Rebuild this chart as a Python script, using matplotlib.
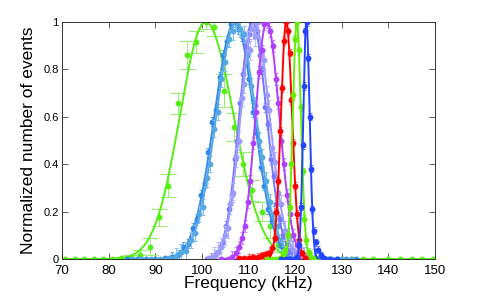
import numpy as np
import matplotlib
matplotlib.use("Agg")
import matplotlib.pyplot as plt

plt.rcParams['font.family'] = ['Liberation Sans', 'DejaVu Sans']

# ---- data ----
g1_x = [70.6, 72.7, 74.8, 76.9, 78.9, 80.8, 82.6, 84.7, 86.7, 88.9, 90.8, 92.7, 94.8, 96.8, 98.7,
        100.8, 102.6, 104.8, 106.8, 108.8, 110.7, 112.9, 114.6, 116.4, 118.5, 120.6, 122.7, 124.9,
        127.2, 129.7, 132.2, 134.6, 136.8, 140.0, 142.5, 145.0, 147.2, 149.6]
g1_y = [0, 0, 0, 0, 0, 0, 0.003, 0.008, 0.017, 0.052, 0.176, 0.31, 0.657, 0.86, 0.915,
        1.0, 0.98, 0.71, 0.556, 0.40, 0.29, 0.20, 0.14, 0.06, 0.02, 0.01, 0.004, 0,
        0, 0, 0, 0, 0, 0, 0, 0, 0, 0]
g1_err = [0, 0, 0, 0, 0, 0, 0.004, 0.01, 0.02, 0.035, 0.035, 0.05, 0.045, 0.06, 0.045,
          0.03, 0.04, 0.07, 0.06, 0.05, 0.045, 0.04, 0.05, 0.03, 0.01, 0.008, 0.004, 0,
          0, 0, 0, 0, 0, 0, 0, 0, 0, 0]

b1_x = [84, 86, 88, 90, 92, 93.5, 95, 96, 97, 98, 99, 99.8, 100.6, 101.4, 102.2, 103, 103.8, 104.6,
        105.4, 106.2, 107, 107.8, 108.6, 109.4, 110.2, 111, 111.8, 112.6, 113.4, 114.2, 115, 116,
        117, 118, 119, 120, 121.5, 123, 125, 127, 129, 131, 133]
b1_y = [0, 0, 0, 0.001, 0.004, 0.01, 0.02, 0.05, 0.065, 0.13, 0.17, 0.27, 0.32, 0.45, 0.58, 0.63,
        0.77, 0.86, 0.92, 0.99, 1.0, 0.97, 0.94, 0.83, 0.76, 0.62, 0.53, 0.39, 0.31, 0.21, 0.16,
        0.09, 0.055, 0.03, 0.012, 0.006, 0.002, 0, 0, 0, 0, 0, 0]

b2_x = [85, 87, 89, 91, 93, 94.5, 95.6, 96.6, 97.6, 98.6, 99.4, 100.2, 101, 101.8, 102.6, 103.4,
        104.2, 105, 105.8, 106.6, 107.4, 108.2, 109, 109.8, 110.6, 111.4, 112.2, 113, 113.8, 114.6,
        115.4, 116.4, 117.4, 118.4, 119.4, 120.4, 122, 124, 126, 128, 130, 132]
b2_y = [0, 0, 0, 0.001, 0.004, 0.012, 0.03, 0.035, 0.08, 0.11, 0.19, 0.22, 0.34, 0.40, 0.55, 0.62,
        0.76, 0.83, 0.93, 0.96, 1.0, 0.97, 0.95, 0.86, 0.73, 0.65, 0.50, 0.43, 0.33, 0.24,
        0.19, 0.14, 0.09, 0.06, 0.04, 0.03, 0.015, 0.006, 0.002, 0, 0, 0]

p1_x = [101, 102, 103, 103.8, 104.5, 105.2, 105.8, 106.4, 107, 107.6, 108.2, 108.8, 109.4, 110,
        110.6, 111.2, 111.8, 112.4, 113, 113.6, 114.2, 114.8, 115.4, 116, 116.7, 117.4, 118.2,
        119, 120, 121, 122.5, 124, 126]
p1_y = [0.002, 0.006, 0.02, 0.05, 0.07, 0.14, 0.21, 0.27, 0.42, 0.50, 0.66, 0.78, 0.90, 0.95,
        1.0, 0.97, 0.96, 0.86, 0.80, 0.64, 0.57, 0.42, 0.35, 0.23, 0.17, 0.10, 0.06,
        0.035, 0.015, 0.006, 0.002, 0, 0]

p2_x = [101.5, 102.5, 103.4, 104.2, 104.9, 105.5, 106.1, 106.7, 107.3, 107.9, 108.5, 109.1, 109.7,
        110.3, 110.9, 111.5, 112.1, 112.7, 113.3, 113.9, 114.5, 115.1, 115.7, 116.3, 117, 117.8,
        118.6, 119.5, 120.5, 121.7, 123, 125]
p2_y = [0.004, 0.012, 0.03, 0.05, 0.10, 0.13, 0.23, 0.28, 0.43, 0.50, 0.68, 0.74, 0.92,
        0.88, 0.97, 0.94, 1.0, 0.86, 0.84, 0.69, 0.63, 0.47, 0.41, 0.28, 0.23, 0.12,
        0.09, 0.04, 0.025, 0.01, 0.003, 0]

u_x = [104, 105.5, 106.5, 107.3, 108, 108.6, 109.2, 109.8, 110.4, 111, 111.6, 112.2, 112.8, 113.4,
       114, 114.6, 115.2, 115.8, 116.4, 117, 117.6, 118.2, 118.9, 119.6, 120.4, 121.3, 122.5, 124]
u_y = [0, 0.002, 0.01, 0.025, 0.05, 0.09, 0.14, 0.24, 0.33, 0.49, 0.62, 0.79, 0.88, 0.99,
       1.0, 0.96, 0.90, 0.76, 0.66, 0.50, 0.40, 0.27, 0.19, 0.10, 0.06, 0.02, 0.006, 0]

r_x = [108, 109, 110, 111, 112, 113, 113.8, 114.5, 115.1, 115.6, 116, 116.4, 116.8, 117.2, 117.6,
       118, 118.4, 118.8, 119.2, 119.6, 120, 120.4, 120.9, 121.5, 122.2, 123, 124.5, 126]
r_y = [0.003, 0.004, 0.006, 0.008, 0.01, 0.015, 0.02, 0.025, 0.045, 0.09, 0.20, 0.33, 0.54, 0.72,
       0.92, 1.0, 0.96, 0.87, 0.67, 0.49, 0.31, 0.19, 0.08, 0.025, 0.006, 0.002, 0, 0]

n_x = [114, 115, 116, 116.8, 117.4, 117.9, 118.4, 118.8, 119.2, 119.6, 120, 120.4, 120.8, 121.2,
       121.6, 122, 122.4, 122.9, 123.5, 124.2, 125, 126, 127.5]
n_y = [0, 0, 0.002, 0.005, 0.02, 0.04, 0.10, 0.22, 0.40, 0.69, 0.93, 1.0, 0.88, 0.64,
       0.37, 0.17, 0.08, 0.03, 0.01, 0.003, 0, 0, 0]

d_x = [117, 118, 119, 119.8, 120.4, 120.9, 121.3, 121.6, 121.9, 122.2, 122.5, 122.8, 123.1, 123.4,
       123.7, 124, 124.4, 124.9, 125.5, 126.3, 127.5, 129]
d_y = [0, 0, 0, 0.002, 0.01, 0.06, 0.22, 0.48, 0.73, 0.96, 1.0, 0.85, 0.60, 0.38,
       0.21, 0.12, 0.07, 0.04, 0.015, 0.005, 0, 0]

# fitted peak parameters: centre, left width, right width (kHz)
fit_center = [100.8, 107.1, 107.4, 110.8, 111.2, 113.9, 118.1, 120.35, 122.4]
fit_sig_l = [5.5, 4.4, 4.3, 2.8, 2.9, 2.4, 1.15, 0.85, 0.65]
fit_sig_r = [6.0, 4.1, 4.2, 3.1, 3.3, 2.7, 1.25, 0.9, 0.72]
point_err = [None, 0.02, 0.035, 0.02, 0.04, 0.025, 0.015, 0.015, 0.015]

series_x = [g1_x, b1_x, b2_x, p1_x, p2_x, u_x, r_x, n_x, d_x]
series_y = [g1_y, b1_y, b2_y, p1_y, p2_y, u_y, r_y, n_y, d_y]
colors = ['#55ee11', '#3388ee', '#55a8e0', '#7777ff', '#9c9cff', '#b040ff', '#ff0000', '#66ee00', '#2244ff']
ecolors = ['#99ee77', '#66aaee', '#88c4ea', '#9f9fff', '#bcbcff', '#cc88ff', '#ff7777', '#99ee66', '#6680ff']


def fit_curve(x, c, sl, sr):
    s = np.where(x < c, sl, sr)
    return np.exp(-0.5 * ((x - c) / s) ** 2)


fig = plt.figure(figsize=(4.8, 2.96), dpi=100)
ax = fig.add_axes([62 / 480, 37 / 296, 373 / 480, 237 / 296])

for i in range(len(series_x)):
    xs = np.array(series_x[i], dtype=float)
    ys = np.array(series_y[i], dtype=float)
    if i == 0:
        err = np.array(g1_err)
    else:
        err = np.where(ys > 0.005, point_err[i], 0.0)
    cap = 6 if i == 0 else 1.6
    ax.errorbar(xs, ys, yerr=err, fmt='none', ecolor=ecolors[i], elinewidth=0.8,
                capsize=cap, capthick=0.8, zorder=2 + i * 0.1)
    ax.plot(xs, ys, 'o', ms=3.2, color=colors[i], mec=colors[i], zorder=2.02 + i * 0.1)
    xx = np.linspace(xs.min(), xs.max(), 1500)
    ax.plot(xx, fit_curve(xx, fit_center[i], fit_sig_l[i], fit_sig_r[i]), '-',
            color=colors[i], lw=1.4, zorder=2.05 + i * 0.1)

ax.set_xlim(70, 150)
ax.set_ylim(0, 1)
ax.set_xticks([70, 80, 90, 100, 110, 120, 130, 140, 150])
ax.set_yticks([0, 0.2, 0.4, 0.6, 0.8, 1.0])
ax.set_yticklabels(['0', '0.2', '0.4', '0.6', '0.8', '1'])
ax.tick_params(direction='in', top=True, right=True, length=4, width=0.6,
               pad=2, color='#444444')
ax.tick_params(axis='x', labelsize=9.5, pad=4.5)
ax.tick_params(axis='y', labelsize=8, pad=2.5)
for sp in ax.spines.values():
    sp.set_linewidth(0.7)
    sp.set_color('#333333')

ax.set_xlabel('Frequency (kHz)', fontsize=12.5, labelpad=-1)
ax.set_ylabel('Normalized number of events', fontsize=12.5, labelpad=5)

fig.savefig('out.png', dpi=100)
